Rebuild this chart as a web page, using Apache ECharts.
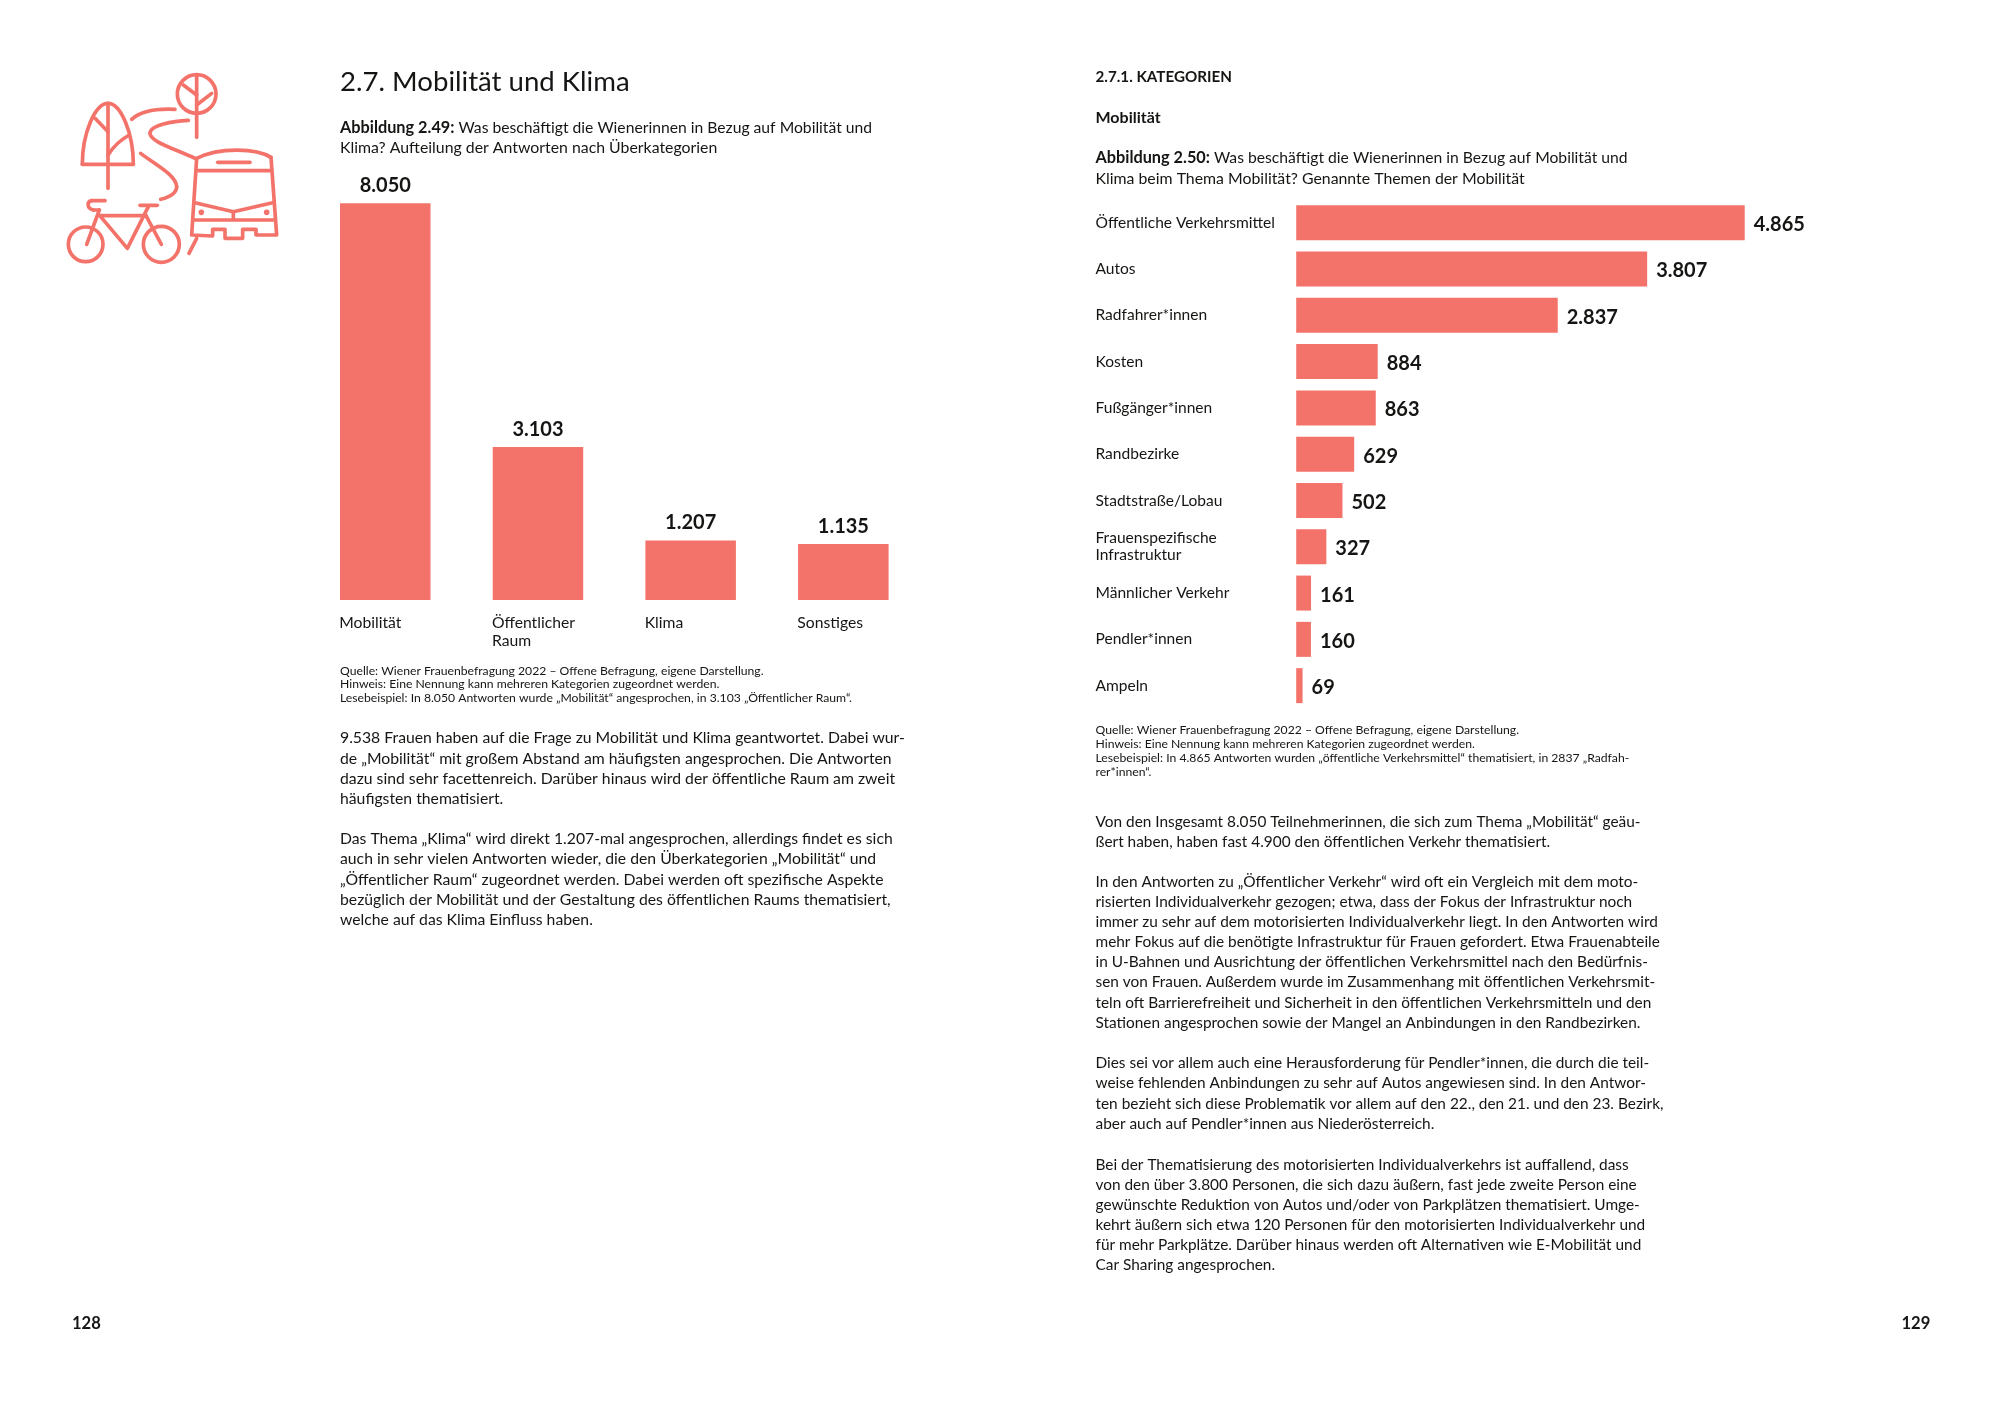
<!DOCTYPE html>
<html><head><meta charset="utf-8">
<style>html,body{margin:0;padding:0;background:#fff}#c{width:2000px;height:1414px}</style>
<script src="https://cdn.jsdelivr.net/npm/echarts@6/dist/echarts.min.js"></script>
</head><body><div id="c"></div>
<script>
const overCategories = ['Mobilität', 'Öffentlicher\nRaum', 'Klima', 'Sonstiges'];
const overValues = [8050, 3103, 1207, 1135];
const themeCategories = ['Öffentliche Verkehrsmittel', 'Autos', 'Radfahrer*innen', 'Kosten', 'Fußgänger*innen', 'Randbezirke', 'Stadtstraße/Lobau', 'Frauenspezifische\nInfrastruktur', 'Männlicher Verkehr', 'Pendler*innen', 'Ampeln'];
const themeValues = [4865, 3807, 2837, 884, 863, 629, 502, 327, 161, 160, 69];

const leftNotes = [
 'Quelle: Wiener Frauenbefragung 2022 – Offene Befragung, eigene Darstellung.',
 'Hinweis: Eine Nennung kann mehreren Kategorien zugeordnet werden.',
 'Lesebeispiel: In 8.050 Antworten wurde „Mobilität“ angesprochen, in 3.103 „Öffentlicher Raum“.'];
const rightNotes = [
 'Quelle: Wiener Frauenbefragung 2022 – Offene Befragung, eigene Darstellung.',
 'Hinweis: Eine Nennung kann mehreren Kategorien zugeordnet werden.',
 'Lesebeispiel: In 4.865 Antworten wurden „öffentliche Verkehrsmittel“ thematisiert, in 2837 „Radfah-',
 'rer*innen“.'];
const leftPara1 = [
 '9.538 Frauen haben auf die Frage zu Mobilität und Klima geantwortet. Dabei wur-',
 'de „Mobilität“ mit großem Abstand am häufigsten angesprochen. Die Antworten',
 'dazu sind sehr facettenreich. Darüber hinaus wird der öffentliche Raum am zweit',
 'häufigsten thematisiert.'];
const leftPara2 = [
 'Das Thema „Klima“ wird direkt 1.207-mal angesprochen, allerdings findet es sich',
 'auch in sehr vielen Antworten wieder, die den Überkategorien „Mobilität“ und',
 '„Öffentlicher Raum“ zugeordnet werden. Dabei werden oft spezifische Aspekte',
 'bezüglich der Mobilität und der Gestaltung des öffentlichen Raums thematisiert,',
 'welche auf das Klima Einfluss haben.'];
const rightPara1 = [
 'Von den Insgesamt 8.050 Teilnehmerinnen, die sich zum Thema „Mobilität“ geäu-',
 'ßert haben, haben fast 4.900 den öffentlichen Verkehr thematisiert.'];
const rightPara2 = [
 'In den Antworten zu „Öffentlicher Verkehr“ wird oft ein Vergleich mit dem moto-',
 'risierten Individualverkehr gezogen; etwa, dass der Fokus der Infrastruktur noch',
 'immer zu sehr auf dem motorisierten Individualverkehr liegt. In den Antworten wird',
 'mehr Fokus auf die benötigte Infrastruktur für Frauen gefordert. Etwa Frauenabteile',
 'in U-Bahnen und Ausrichtung der öffentlichen Verkehrsmittel nach den Bedürfnis-',
 'sen von Frauen. Außerdem wurde im Zusammenhang mit öffentlichen Verkehrsmit-',
 'teln oft Barrierefreiheit und Sicherheit in den öffentlichen Verkehrsmitteln und den',
 'Stationen angesprochen sowie der Mangel an Anbindungen in den Randbezirken.'];
const rightPara3 = [
 'Dies sei vor allem auch eine Herausforderung für Pendler*innen, die durch die teil-',
 'weise fehlenden Anbindungen zu sehr auf Autos angewiesen sind. In den Antwor-',
 'ten bezieht sich diese Problematik vor allem auf den 22., den 21. und den 23. Bezirk,',
 'aber auch auf Pendler*innen aus Niederösterreich.'];
const rightPara4 = [
 'Bei der Thematisierung des motorisierten Individualverkehrs ist auffallend, dass',
 'von den über 3.800 Personen, die sich dazu äußern, fast jede zweite Person eine',
 'gewünschte Reduktion von Autos und/oder von Parkplätzen thematisiert. Umge-',
 'kehrt äußern sich etwa 120 Personen für den motorisierten Individualverkehr und',
 'für mehr Parkplätze. Darüber hinaus werden oft Alternativen wie E-Mobilität und',
 'Car Sharing angesprochen.'];

const FONT = 'Lato';
const INK = '#151513';
const CORAL = '#f3736a';
const fmt = v => String(v).replace(/\B(?=(\d{3})+$)/g, '.');

const texts = [];
function line(x, y, text, size, weight) {
  texts.push({type:'text', silent:true, style:{x, y, text, fill:INK, align:'left', verticalAlign:'middle',
    textAlign:'left', textVerticalAlign:'middle', fontFamily:FONT, fontSize:size, fontWeight:weight||'normal'}});
}
function block(x, y, lines, size, step) { lines.forEach((t,i)=>line(x, y+i*step, t, size)); }
function capLine(x, y, bold, rest) {
  texts.push({type:'text', silent:true, style:{x, y, text:`{b|${bold}}{r| ${rest}}`, verticalAlign:'middle', textVerticalAlign:'middle', fill:INK,
    rich:{b:{fontFamily:FONT, fontSize:16.3, fontWeight:'bold', fill:INK, color:INK}, r:{fontFamily:FONT, fontSize:15.7, fill:INK, color:INK}}}});
}
const BODY_L = 15.75, BODY_R = 15.4, NOTE = 12.2, CAP2 = 15.85;
line(340, 82.5, '2.7. Mobilität und Klima', 27.6);
capLine(340, 127.5, 'Abbildung 2.49:', 'Was beschäftigt die Wienerinnen in Bezug auf Mobilität und');
line(340, 147.5, 'Klima? Aufteilung der Antworten nach Überkategorien', CAP2);
block(340, 670.7, leftNotes, NOTE, 13.8);
block(340, 738.3, leftPara1, BODY_L, 20.2);
block(340, 839.3, leftPara2, BODY_L, 20.1);
line(72, 1324, '128', 16.6, 'bold');
line(1095.5, 77.5, '2.7.1. KATEGORIEN', 15.2, 'bold');
line(1095.5, 117.5, 'Mobilität', 16, 'bold');
capLine(1095.5, 158, 'Abbildung 2.50:', 'Was beschäftigt die Wienerinnen in Bezug auf Mobilität und');
line(1095.5, 178.5, 'Klima beim Thema Mobilität? Genannte Themen der Mobilität', CAP2);
block(1095.5, 730.5, rightNotes, NOTE, 14);
block(1095.5, 821.8, rightPara1, BODY_R, 20.1);
block(1095.5, 882, rightPara2, BODY_R, 20.1);
block(1095.5, 1063.2, rightPara3, BODY_R, 20.2);
block(1095.5, 1164.8, rightPara4, BODY_R, 20.1);
line(1901.5, 1324, '129', 16.6, 'bold');

// pictogram, decorative: drawn in a 3x local space and scaled to the page
const iconStroke = {stroke:CORAL, lineWidth:11, fill:null, lineCap:'round', lineJoin:'round'};
const pl = pts => ({type:'polyline', shape:{points:pts}, style:iconStroke});
const bz = (a,b,c,d,e,f,g,h) => ({type:'bezierCurve', shape:{x1:a,y1:b,cpx1:c,cpy1:d,cpx2:e,cpy2:f,x2:g,y2:h}, style:iconStroke});
const ci = (x,y,r) => ({type:'circle', shape:{cx:x,cy:y,r}, style:iconStroke});
const icon = {type:'group', x:40, y:50, scaleX:1/3, scaleY:1/3, silent:true, children:[
  bz(127,343,127,250,165,160,204,160), bz(204,160,243,160,280,250,280,343), pl([[127,343],[280,343]]),
  pl([[204,165],[204,415]]), pl([[165,205],[204,245]]), bz(268,255,240,270,220,290,204,315),
  ci(470,132,58), pl([[470,75],[470,262]]), pl([[430,105],[470,135]]), pl([[515,130],[470,165]]),
  bz(275,208,300,185,340,175,405,178),
  bz(445,211,400,213,330,225,330,250), bz(330,250,330,275,400,295,465,325),
  bz(302,310,340,340,410,375,410,410), bz(410,410,410,430,385,442,362,448),
  pl([[470,565],[447,610]]),
  ci(137,583,52), ci(364,583,54),
  pl([[140,583],[178,480]]), pl([[195,452],[155,452]]), bz(155,452,140,455,140,475,160,480), pl([[160,480],[178,480]]),
  pl([[180,497],[318,497]]), pl([[182,500],[262,595],[325,470]]), pl([[318,497],[364,583]]), pl([[300,466],[352,466]]),
  bz(470,325,540,290,650,295,693,322),
  pl([[693,322],[710,555],[648,555],[648,538],[608,538],[608,565],[555,565],[555,538],[518,538],[518,558],[455,555],[470,325]]),
  pl([[470,362],[690,362]]), pl([[533,337],[630,337]]),
  pl([[465,458],[580,485],[698,458]]), pl([[580,485],[580,508]]), pl([[462,510],[700,510]]),
  ci(484,487,3), ci(680,487,3)
]};

// the last labels sit a little off their bands in the reference
const themeLabelShift = {8:1, 9:-2, 10:-4};
const themeAxisData = themeCategories.map((c,i) => themeLabelShift[i] != null
  ? {value:c, textStyle:{align:'left', verticalAlign:'middle', padding:[themeLabelShift[i],0,0,0]}} : c);

const chart = echarts.init(document.getElementById('c'), null, {renderer:'canvas', width:2000, height:1414});
chart.setOption({
  animation:false, backgroundColor:'#fff',
  grid:[
    {left:308.9, width:610.8, top:203.3, height:396.7},
    {left:1296.2, width:448.5, top:199.6, height:509.2}
  ],
  xAxis:[
    {gridIndex:0, type:'category', data:overCategories, axisLine:{show:false}, axisTick:{show:false},
     axisLabel:{interval:0, align:'left', verticalAlign:'top', margin:14, fontFamily:FONT, fontSize:15.7, lineHeight:18, color:INK, padding:[0,0,0,-46]}},
    {gridIndex:1, type:'value', min:0, max:4865, show:false}
  ],
  yAxis:[
    {gridIndex:0, type:'value', min:0, max:8050, show:false},
    {gridIndex:1, type:'category', inverse:true, data:themeAxisData, axisLine:{show:false}, axisTick:{show:false},
     axisLabel:{interval:0, align:'left', margin:200.7, fontFamily:FONT, fontSize:15.55, lineHeight:17, color:INK}}
  ],
  series:[
    {type:'bar', xAxisIndex:0, yAxisIndex:0, data:overValues, barWidth:90.5, itemStyle:{color:CORAL},
     label:{show:true, position:'top', distance:8, formatter:p=>fmt(p.value), fontFamily:FONT, fontSize:20, fontWeight:'bold', color:INK}},
    {type:'bar', xAxisIndex:1, yAxisIndex:1, data:themeValues, barWidth:35, itemStyle:{color:CORAL},
     label:{show:true, position:'right', distance:9, offset:[0,2], formatter:p=>fmt(p.value), fontFamily:FONT, fontSize:20, fontWeight:'bold', color:INK}}
  ],
  graphic:{elements:[icon].concat(texts)}
});
</script></body></html>
